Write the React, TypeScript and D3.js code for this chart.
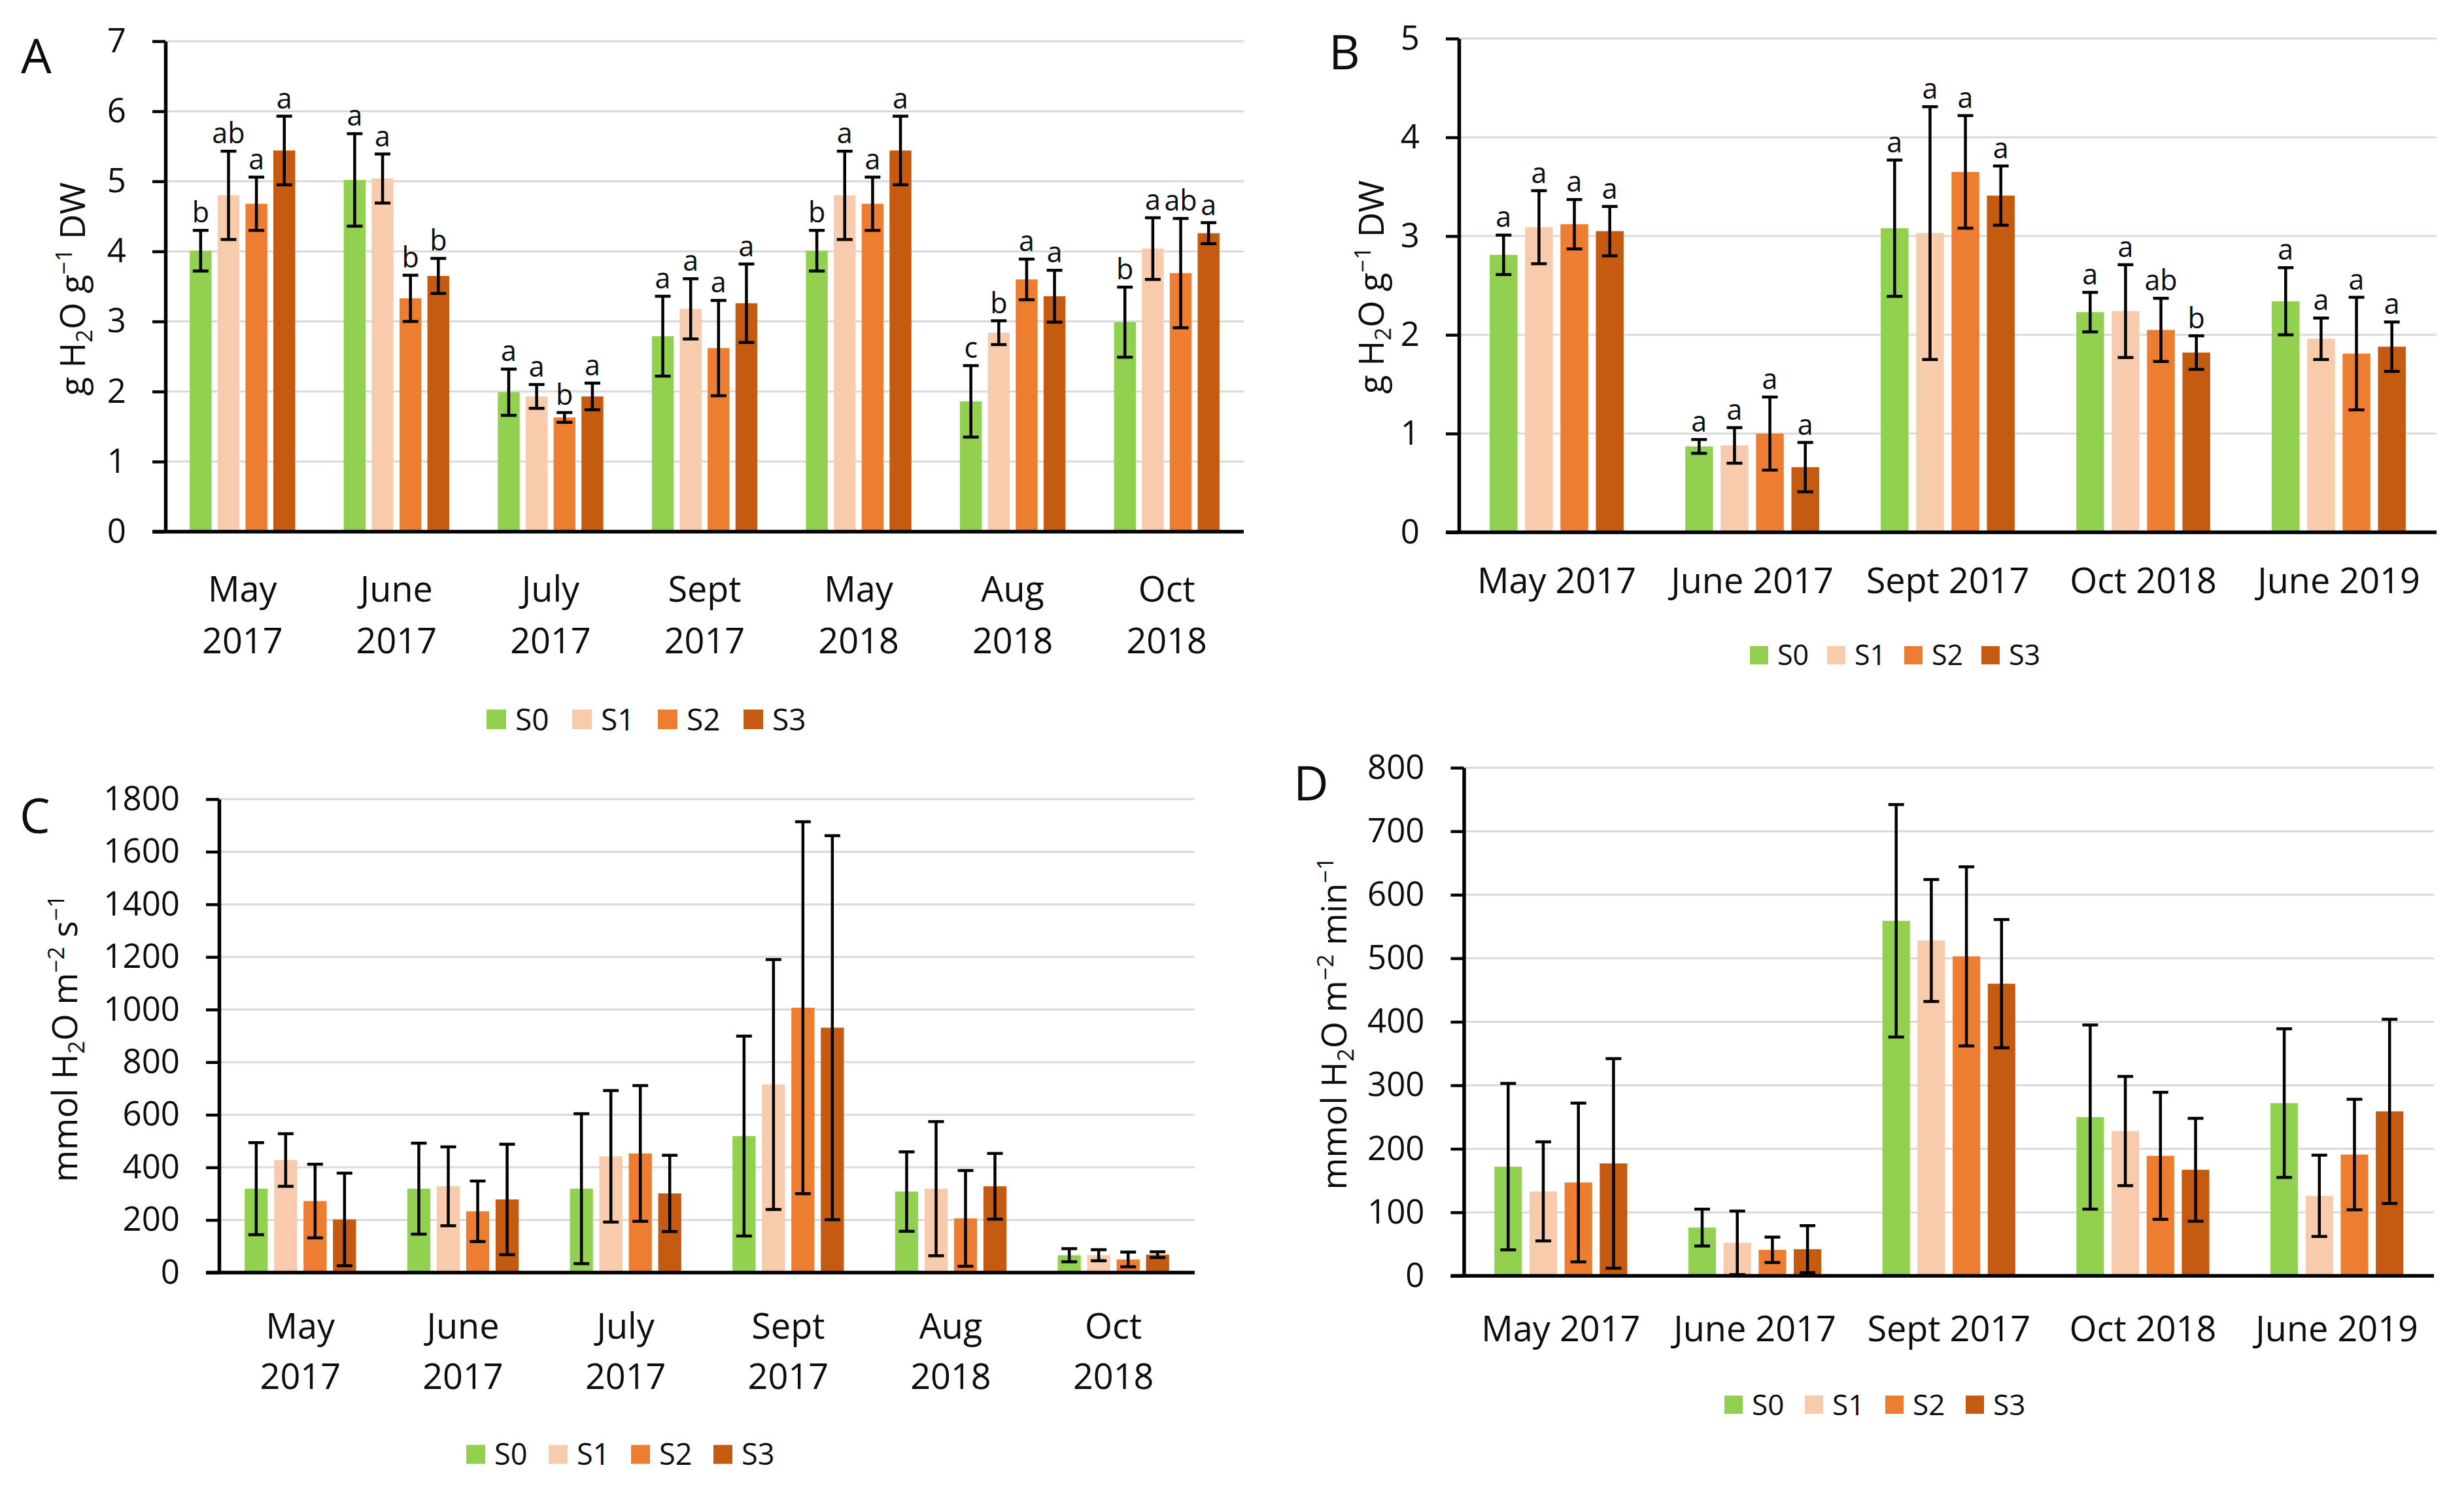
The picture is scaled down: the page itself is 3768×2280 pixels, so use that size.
import { useEffect, useRef } from 'react';
import * as d3 from 'd3';

const seriesNames = ['S0', 'S1', 'S2', 'S3'];
const seriesColors = ['#92d050', '#f8cbad', '#ed7d31', '#c55a11'];

// Panel A: g H2O g-1 DW
const aCategories = ['May 2017', 'June 2017', 'July 2017', 'Sept 2017', 'May 2018', 'Aug 2018', 'Oct 2018'];
const aTicks = [0, 1, 2, 3, 4, 5, 6, 7];
const aMean = [
  [4.01, 5.02, 1.99, 2.79, 4.01, 1.86, 2.99],
  [4.8, 5.04, 1.93, 3.18, 4.8, 2.84, 4.04],
  [4.68, 3.33, 1.63, 2.62, 4.68, 3.6, 3.69],
  [5.44, 3.65, 1.93, 3.26, 5.44, 3.36, 4.26],
];
const aErr = [
  [0.29, 0.66, 0.33, 0.57, 0.29, 0.51, 0.5],
  [0.63, 0.35, 0.17, 0.43, 0.63, 0.17, 0.44],
  [0.38, 0.33, 0.07, 0.68, 0.38, 0.29, 0.78],
  [0.49, 0.25, 0.19, 0.56, 0.49, 0.37, 0.15],
];
const aLetters = [
  ['b', 'a', 'a', 'a', 'b', 'c', 'b'],
  ['ab', 'a', 'a', 'a', 'a', 'b', 'a'],
  ['a', 'b', 'b', 'a', 'a', 'a', 'ab'],
  ['a', 'b', 'a', 'a', 'a', 'a', 'a'],
];

// Panel B: g H2O g-1 DW
const bCategories = ['May 2017', 'June 2017', 'Sept 2017', 'Oct 2018', 'June 2019'];
const bTicks = [0, 1, 2, 3, 4, 5];
const bMean = [
  [2.81, 0.87, 3.08, 2.23, 2.34],
  [3.09, 0.88, 3.03, 2.24, 1.96],
  [3.12, 1.0, 3.65, 2.05, 1.81],
  [3.05, 0.66, 3.41, 1.82, 1.88],
];
const bErr = [
  [0.2, 0.07, 0.69, 0.2, 0.34],
  [0.37, 0.18, 1.28, 0.47, 0.21],
  [0.25, 0.37, 0.57, 0.32, 0.57],
  [0.25, 0.25, 0.3, 0.17, 0.25],
];
const bLetters = [
  ['a', 'a', 'a', 'a', 'a'],
  ['a', 'a', 'a', 'a', 'a'],
  ['a', 'a', 'a', 'ab', 'a'],
  ['a', 'a', 'a', 'b', 'a'],
];

// Panel C: mmol H2O m-2 s-1
const cCategories = ['May 2017', 'June 2017', 'July 2017', 'Sept 2017', 'Aug 2018', 'Oct 2018'];
const cTicks = [0, 200, 400, 600, 800, 1000, 1200, 1400, 1600, 1800];
const cMean = [
  [319, 319, 319, 519, 308, 66],
  [428, 328, 442, 715, 319, 66],
  [272, 233, 453, 1007, 206, 50],
  [202, 278, 301, 931, 328, 68],
];
const cErr = [
  [175, 173, 285, 380, 151, 25],
  [100, 150, 250, 475, 255, 21],
  [140, 115, 258, 707, 182, 28],
  [176, 210, 145, 730, 125, 11],
];

// Panel D: mmol H2O m-2 min-1
const dCategories = ['May 2017', 'June 2017', 'Sept 2017', 'Oct 2018', 'June 2019'];
const dTicks = [0, 100, 200, 300, 400, 500, 600, 700, 800];
const dMean = [
  [172, 76, 559, 250, 272],
  [133, 52, 528, 228, 126],
  [147, 41, 503, 189, 191],
  [177, 42, 460, 167, 259],
];
const dErr = [
  [131, 29, 183, 145, 117],
  [78, 50, 96, 86, 64],
  [125, 20, 141, 100, 87],
  [165, 37, 101, 81, 145],
];

const FONT = "'Open Sans', 'DejaVu Sans', sans-serif";
const INK = '#0d0d0d';

interface PanelSpec {
  letter: string;
  categories: string[];
  ticks: number[];
  mean: number[][];
  err: number[][];
  letters?: string[][];
  title: { t: string; kind: 'n' | 'sub' | 'sup' }[];
  left: number;
  right: number;
  top: number;
  bottom: number;
  catY: number[];
  legend: { x: number; step: number; cy: number; size: number; font: number };
  letterPos: { x: number; y: number };
  titlePos: { x: number; y: number };
}

const drawPanel = (svg: d3.Selection<SVGSVGElement, unknown, null, undefined>, p: PanelSpec) => {
  const g = svg.append('g');
  const yMax = p.ticks[p.ticks.length - 1];

  const x0 = d3.scaleBand().domain(p.categories).range([p.left, p.right]);
  const x1 = d3.scaleBand()
    .domain(seriesNames)
    .range([0, x0.bandwidth()])
    .paddingInner(0.2155)
    .paddingOuter(0.87);
  const y = d3.scaleLinear().domain([0, yMax]).range([p.bottom, p.top]);

  // gridlines
  g.selectAll('line.grid')
    .data(p.ticks.filter(t => t > 0))
    .enter()
    .append('line')
    .attr('x1', p.left)
    .attr('x2', p.right)
    .attr('y1', d => y(d))
    .attr('y2', d => y(d))
    .attr('stroke', '#d9d9d9')
    .attr('stroke-width', 3);

  // bars
  seriesNames.forEach((s, si) => {
    g.selectAll(`rect.bar-${s}`)
      .data(p.mean[si])
      .enter()
      .append('rect')
      .attr('x', (d, i) => (x0(p.categories[i]) || 0) + (x1(s) || 0))
      .attr('width', x1.bandwidth())
      .attr('y', d => y(d))
      .attr('height', d => p.bottom - y(d))
      .attr('fill', seriesColors[si]);
  });

  // error bars + significance letters
  seriesNames.forEach((s, si) => {
    p.mean[si].forEach((m, i) => {
      const cx = (x0(p.categories[i]) || 0) + (x1(s) || 0) + x1.bandwidth() / 2;
      const e = p.err[si][i];
      const yHi = y(m + e);
      const yLo = y(Math.max(m - e, 0));
      const eg = g.append('g').attr('stroke', '#000').attr('stroke-width', 4.5);
      eg.append('line').attr('x1', cx).attr('x2', cx).attr('y1', yHi).attr('y2', yLo);
      eg.append('line').attr('x1', cx - 12).attr('x2', cx + 12).attr('y1', yHi).attr('y2', yHi);
      eg.append('line').attr('x1', cx - 12).attr('x2', cx + 12).attr('y1', yLo).attr('y2', yLo);
      if (p.letters) {
        g.append('text')
          .attr('x', cx)
          .attr('y', yHi - 12)
          .attr('text-anchor', 'middle')
          .attr('font-size', 43)
          .attr('fill', INK)
          .text(p.letters[si][i]);
      }
    });
  });

  // y axis
  g.append('g')
    .attr('transform', `translate(${p.left},0)`)
    .call(
      d3.axisLeft(y)
        .tickValues(p.ticks)
        .tickSize(20)
        .tickSizeOuter(0)
        .tickPadding(40)
        .tickFormat(d => `${d}`)
    )
    .call(ax => ax.select('.domain').attr('stroke', '#000').attr('stroke-width', 5.5))
    .call(ax => ax.selectAll('.tick line').attr('stroke', '#000').attr('stroke-width', 4.5))
    .call(ax => ax.selectAll('.tick text')
      .attr('font-size', 51)
      .attr('font-family', FONT)
      .attr('fill', INK));

  // baseline
  g.append('line')
    .attr('x1', p.left - 20)
    .attr('x2', p.right)
    .attr('y1', p.bottom)
    .attr('y2', p.bottom)
    .attr('stroke', '#000')
    .attr('stroke-width', 5.5);

  // category labels
  p.categories.forEach(c => {
    const cx = (x0(c) || 0) + x0.bandwidth() / 2;
    const lines = p.catY.length > 1 ? c.split(' ') : [c];
    lines.forEach((ln, li) => {
      g.append('text')
        .attr('x', cx)
        .attr('y', p.catY[li])
        .attr('text-anchor', 'middle')
        .attr('font-size', 54)
        .attr('fill', INK)
        .text(ln);
    });
  });

  // axis title (rotated)
  const tt = g.append('text')
    .attr('transform', `translate(${p.titlePos.x},${p.titlePos.y}) rotate(-90)`)
    .attr('text-anchor', 'middle')
    .attr('font-size', 53)
    .attr('fill', INK);
  let shift = 0;
  p.title.forEach(part => {
    const target = part.kind === 'sub' ? 11 : part.kind === 'sup' ? -20 : 0;
    tt.append('tspan')
      .attr('dy', target - shift)
      .attr('font-size', part.kind === 'n' ? 53 : 35)
      .text(part.t);
    shift = target;
  });

  // panel letter
  g.append('text')
    .attr('x', p.letterPos.x)
    .attr('y', p.letterPos.y)
    .attr('font-size', 74)
    .attr('fill', INK)
    .text(p.letter);

  // legend
  const lg = g.append('g');
  seriesNames.forEach((s, si) => {
    const lx = p.legend.x + si * p.legend.step;
    lg.append('rect')
      .attr('x', lx)
      .attr('y', p.legend.cy - p.legend.size / 2)
      .attr('width', p.legend.size)
      .attr('height', p.legend.size)
      .attr('fill', seriesColors[si]);
    lg.append('text')
      .attr('x', lx + p.legend.size + 14)
      .attr('y', p.legend.cy)
      .attr('dy', '0.36em')
      .attr('font-size', p.legend.font)
      .attr('fill', INK)
      .text(s);
  });
};

const gTitle: PanelSpec['title'] = [
  { t: 'g H', kind: 'n' },
  { t: '2', kind: 'sub' },
  { t: 'O g', kind: 'n' },
  { t: '\u22121', kind: 'sup' },
  { t: ' DW', kind: 'n' },
];

const App = () => {
  const svgRef = useRef<SVGSVGElement>(null);

  useEffect(() => {
    if (!svgRef.current) return;
    const svg = d3.select(svgRef.current);
    svg.selectAll('*').remove();

    svg.append('rect').attr('width', 3768).attr('height', 2280).attr('fill', '#fff');

    drawPanel(svg, {
      letter: 'A',
      categories: aCategories,
      ticks: aTicks,
      mean: aMean,
      err: aErr,
      letters: aLetters,
      title: gTitle,
      left: 253, right: 1902, top: 63, bottom: 813,
      catY: [920, 999],
      legend: { x: 744, step: 131, cy: 1100, size: 30, font: 46 },
      letterPos: { x: 32, y: 112 },
      titlePos: { x: 130, y: 442 },
    });

    drawPanel(svg, {
      letter: 'B',
      categories: bCategories,
      ticks: bTicks,
      mean: bMean,
      err: bErr,
      letters: bLetters,
      title: gTitle,
      left: 2231, right: 3726, top: 59, bottom: 814,
      catY: [907],
      legend: { x: 2676, step: 118, cy: 1002, size: 28, font: 43 },
      letterPos: { x: 2032, y: 106 },
      titlePos: { x: 2116, y: 439 },
    });

    drawPanel(svg, {
      letter: 'C',
      categories: cCategories,
      ticks: cTicks,
      mean: cMean,
      err: cErr,
      title: [
        { t: 'mmol H', kind: 'n' },
        { t: '2', kind: 'sub' },
        { t: 'O m', kind: 'n' },
        { t: '\u22122', kind: 'sup' },
        { t: ' s', kind: 'n' },
        { t: '\u22121', kind: 'sup' },
      ],
      left: 335, right: 1827, top: 1222, bottom: 1946,
      catY: [2047, 2124],
      legend: { x: 713, step: 126, cy: 2224, size: 29, font: 45 },
      letterPos: { x: 30, y: 1274 },
      titlePos: { x: 118, y: 1588 },
    });

    drawPanel(svg, {
      letter: 'D',
      categories: dCategories,
      ticks: dTicks,
      mean: dMean,
      err: dErr,
      title: [
        { t: 'mmol H', kind: 'n' },
        { t: '2', kind: 'sub' },
        { t: 'O m', kind: 'n' },
        { t: '\u22122', kind: 'sup' },
        { t: ' min', kind: 'n' },
        { t: '\u22121', kind: 'sup' },
      ],
      left: 2238.5, right: 3722, top: 1174, bottom: 1951,
      catY: [2051],
      legend: { x: 2637, step: 123, cy: 2148, size: 28, font: 44 },
      letterPos: { x: 1978, y: 1224 },
      titlePos: { x: 2059, y: 1565 },
    });
  }, []);

  return (
    <svg
      ref={svgRef}
      width={3768}
      height={2280}
      style={{ position: 'absolute', left: 0, top: 0, fontFamily: FONT }}
    />
  );
};

export default App;
